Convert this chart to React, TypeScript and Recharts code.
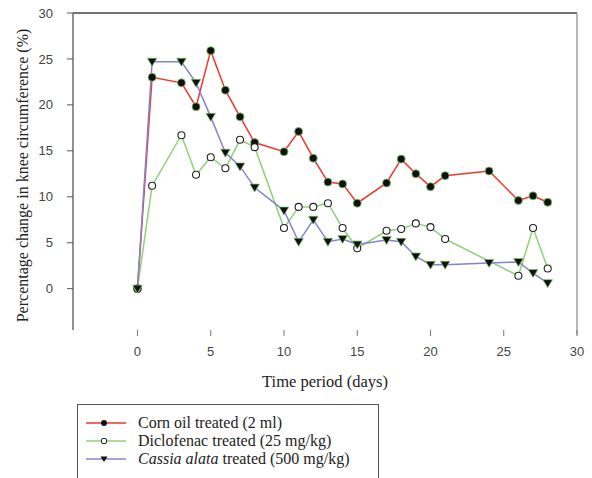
import { LineChart, Line, XAxis, YAxis, ReferenceLine, Label } from "recharts";

const cornDays = [0, 1, 3, 4, 5, 6, 7, 8, 10, 11, 12, 13, 14, 15, 17, 18, 19, 20, 21, 24, 26, 27, 28];
const cornValues = [0, 23.0, 22.4, 19.8, 25.9, 21.6, 18.7, 15.9, 14.9, 17.1, 14.2, 11.6, 11.4, 9.3, 11.5, 14.1, 12.5, 11.1, 12.3, 12.8, 9.6, 10.1, 9.4];

const diclofenacDays = [0, 1, 3, 4, 5, 6, 7, 8, 10, 11, 12, 13, 14, 15, 17, 18, 19, 20, 21, 26, 27, 28];
const diclofenacValues = [0, 11.2, 16.7, 12.4, 14.3, 13.1, 16.2, 15.4, 6.6, 8.9, 8.9, 9.3, 6.6, 4.4, 6.3, 6.5, 7.1, 6.7, 5.4, 1.4, 6.6, 2.2];

const cassiaDays = [0, 1, 3, 4, 5, 6, 7, 8, 10, 11, 12, 13, 14, 15, 17, 18, 19, 20, 21, 24, 26, 27, 28];
const cassiaValues = [0, 24.7, 24.7, 22.4, 18.7, 14.8, 13.3, 11.0, 8.5, 5.1, 7.5, 5.1, 5.4, 4.8, 5.3, 5.1, 3.5, 2.6, 2.6, 2.8, 2.9, 1.7, 0.6];

const xTicks = [0, 5, 10, 15, 20, 25, 30];
const yTicks = [0, 5, 10, 15, 20, 25, 30];

const toPoints = (days: number[], values: number[]) =>
  days.map((day, i) => ({ day, value: values[i] }));

const cornData = toPoints(cornDays, cornValues);
const diclofenacData = toPoints(diclofenacDays, diclofenacValues);
const cassiaData = toPoints(cassiaDays, cassiaValues);

const RED = "#f0342c";
const GREEN = "#8dd277";
const BLUE = "#8583cc";
const SERIF = "'Liberation Serif', 'Times New Roman', serif";
const SANS = "'Liberation Sans', Arial, sans-serif";

const BlackDot = (props: any) => {
  const { cx, cy, index } = props;
  if (cx == null || cy == null) return <g key={index} />;
  return <circle key={index} cx={cx} cy={cy} r={4} fill="#111" stroke="#7cc86a" strokeWidth={0.8} />;
};

const OpenDot = (props: any) => {
  const { cx, cy, index } = props;
  if (cx == null || cy == null) return <g key={index} />;
  return <circle key={index} cx={cx} cy={cy} r={3.5} fill="#fff" stroke="#222" strokeWidth={1.1} />;
};

const TriangleDot = (props: any) => {
  const { cx, cy, index } = props;
  if (cx == null || cy == null) return <g key={index} />;
  const d = `M${cx - 4.8},${cy - 3.5} L${cx + 4.8},${cy - 3.5} L${cx},${cy + 4.5} Z`;
  return <path key={index} d={d} fill="#111" stroke="#7cc86a" strokeWidth={0.7} />;
};

const legendItems = [
  { label: "Corn oil treated (2 ml)", color: RED, marker: "dot" },
  { label: "Diclofenac treated (25 mg/kg)", color: GREEN, marker: "open" },
  { label: "treated (500 mg/kg)", italic: "Cassia alata", color: BLUE, marker: "tri" },
];

function LegendSample({ color, marker }: { color: string; marker: string }) {
  return (
    <svg width={42} height={18} style={{ display: "block" }}>
      <line x1={0} y1={9} x2={40} y2={9} stroke={color} strokeWidth={1.5} />
      {marker === "dot" && <circle cx={18} cy={9} r={3} fill="#111" />}
      {marker === "open" && <rect x={15.5} y={6.5} width={5} height={5} rx={1.5} fill="#fff" stroke="#222" strokeWidth={1} />}
      {marker === "tri" && <path d="M14.5,6.5 L21.5,6.5 L18,12 Z" fill="#111" />}
    </svg>
  );
}

function ChartLegend() {
  return (
    <div
      style={{
        position: "absolute",
        left: 77,
        top: 404,
        width: 302,
        height: 80,
        border: "1.5px solid #555",
        boxSizing: "border-box",
        paddingTop: 9,
        fontFamily: SERIF,
        fontSize: 16,
        color: "#222",
      }}
    >
      {legendItems.map((item) => (
        <div key={item.label} style={{ display: "flex", alignItems: "center", height: 18 }}>
          <div style={{ width: 8 }} />
          <LegendSample color={item.color} marker={item.marker} />
          <div style={{ width: 10 }} />
          <span style={{ whiteSpace: "nowrap" }}>
            {item.italic && <i>{item.italic} </i>}
            {item.label}
          </span>
        </div>
      ))}
    </div>
  );
}

export default function App() {
  return (
    <div style={{ position: "absolute", left: 0, top: 0, width: 592, height: 478, overflow: "hidden", background: "#fff" }}>
      <LineChart width={592} height={478} margin={{ top: 13, right: 15, bottom: 88, left: 0 }}>
        <XAxis
          type="number"
          dataKey="day"
          domain={[-4.4, 30]}
          ticks={xTicks}
          axisLine={false}
          tickSize={6}
          tickMargin={11}
          tickLine={{ stroke: "#777" }}
          tick={{ fill: "#444", fontSize: 13, fontFamily: SANS }}
          height={60}
          allowDataOverflow
        >
          <Label
            content={(props: any) => {
              const vb = props.viewBox;
              return (
                <text x={vb.x + vb.width / 2} y={vb.y + 51} textAnchor="middle" dominantBaseline="central" fontFamily={SERIF} fontSize={16.5} fill="#222">
                  Time period (days)
                </text>
              );
            }}
          />
        </XAxis>
        <YAxis
          type="number"
          domain={[-4.5, 30]}
          ticks={yTicks}
          width={73}
          axisLine={{ stroke: "#555", strokeWidth: 1.3 }}
          tickSize={6}
          tickMargin={14}
          tickLine={{ stroke: "#555" }}
          tick={{ fill: "#444", fontSize: 13, fontFamily: SANS }}
          allowDataOverflow
        >
          <Label
            content={(props: any) => {
              const vb = props.viewBox;
              const cx = 22;
              const cy = vb.y + vb.height / 2 + 4;
              return (
                <text x={cx} y={cy} transform={`rotate(-90, ${cx}, ${cy})`} textAnchor="middle" dominantBaseline="central" fontFamily={SERIF} fontSize={16} fill="#222">
                  Percentage change in knee circumference (%)
                </text>
              );
            }}
          />
        </YAxis>
        <ReferenceLine y={30} stroke="#444" strokeWidth={1.6} />
        <ReferenceLine
          segment={[{ x: 30, y: -5 }, { x: 30, y: 30 }]}
          stroke="#999"
          strokeWidth={1.4}
          ifOverflow="visible"
        />
        <Line data={cornData} dataKey="value" stroke={RED} strokeWidth={1.5} dot={BlackDot} activeDot={false} isAnimationActive={false} name="Corn oil treated (2 ml)" />
        <Line data={diclofenacData} dataKey="value" stroke={GREEN} strokeWidth={1.5} dot={OpenDot} activeDot={false} isAnimationActive={false} name="Diclofenac treated (25 mg/kg)" />
        <Line data={cassiaData} dataKey="value" stroke={BLUE} strokeWidth={1.5} dot={TriangleDot} activeDot={false} isAnimationActive={false} name="Cassia alata treated (500 mg/kg)" />
      </LineChart>
      <ChartLegend />
    </div>
  );
}
